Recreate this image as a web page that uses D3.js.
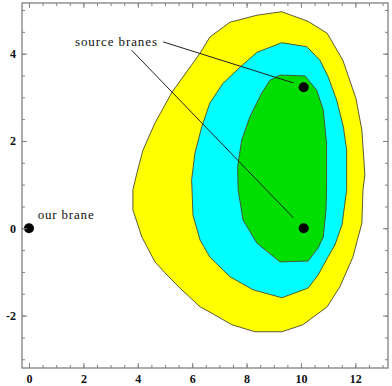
<!DOCTYPE html>
<html>
<head>
<meta charset="utf-8">
<script src="https://cdn.jsdelivr.net/npm/d3@7"></script>
<style>
  html, body { margin: 0; padding: 0; background: #fff; }
  svg { display: block; }
</style>
</head>
<body>
<div id="chart"></div>
<script>
// contour regions, outer to inner: [x, y] in plot units
const outerRegion = [
  [9.29, 4.96], [10.26, 4.74], [10.96, 4.47], [11.54, 3.85], [12.02, 2.98],
  [12.24, 2.25], [12.35, 1.22], [12.28, 0.88], [12.24, 0.12], [11.91, -0.66],
  [11.43, -1.34], [10.96, -1.80], [10.07, -2.21], [9.30, -2.37], [8.31, -2.37],
  [7.46, -2.21], [6.65, -1.92], [6.29, -1.80], [5.55, -1.37], [5.00, -1.02],
  [4.63, -0.77], [4.15, -0.20], [3.82, 0.42], [3.82, 0.88], [3.97, 1.27],
  [4.19, 1.79], [4.63, 2.41], [5.26, 3.12], [6.29, 4.01], [6.65, 4.38],
  [7.39, 4.72], [8.38, 4.88]
];
const middleRegion = [
  [9.29, 4.25], [10.21, 4.16], [10.70, 3.85], [11.00, 3.47], [11.31, 2.94],
  [11.56, 2.32], [11.68, 1.79], [11.68, 0.88], [11.51, 0.08], [11.25, -0.38],
  [10.99, -0.66], [10.63, -1.07], [10.26, -1.37], [9.30, -1.59], [8.24, -1.41],
  [7.39, -1.11], [6.65, -0.66], [6.29, -0.27], [6.03, 0.30], [5.98, 1.11],
  [6.10, 1.72], [6.35, 2.32], [6.65, 2.87], [7.13, 3.32], [7.76, 3.69],
  [8.38, 4.03]
];
const innerRegion = [
  [9.23, 3.51], [10.15, 3.49], [10.58, 3.16], [10.82, 2.71], [10.94, 1.95],
  [10.94, 0.88], [10.92, 0.42], [10.82, -0.20], [10.63, -0.45], [10.26, -0.75],
  [9.23, -0.77], [8.38, -0.34], [7.87, 0.19], [7.69, 0.88], [7.67, 1.40],
  [7.82, 2.02], [8.12, 2.55], [8.56, 3.10], [8.86, 3.39]
];
const regionColors = ['#ffff00', '#00ffff', '#00dd00'];

// branes
const sourceBranes = [[10.1, 3.23], [10.1, 0.0]];
const ourBrane = [[0.0, 0.0]];

// annotations
const sourceLabel = { text: 'source branes', x: 1.69, y: 4.17, len: 82 };
const ourLabel = { text: 'our brane', x: 0.32, y: 0.22, len: 56 };
const leaderLines = [
  [[4.93, 4.27], [9.72, 3.33]],
  [[3.77, 4.08], [9.72, 0.24]]
];

const xMajor = [0, 2, 4, 6, 8, 10, 12];
const yMajor = [-2, 0, 2, 4];
const xMinor = d3.range(-0.0, 13.01, 0.5);
const yMinor = d3.range(-3.0, 5.01, 0.5);

const width = 392, height = 386;
const margin = { top: 3, right: 4, bottom: 18, left: 22 };

const svg = d3.select('#chart').append('svg')
  .attr('width', width)
  .attr('height', height);

const x = d3.scaleLinear().domain([-0.257, 13.2]).range([margin.left, width - margin.right]);
const y = d3.scaleLinear().domain([-3.2, 5.16]).range([height - margin.bottom, margin.top]);

const line = d3.line().x(d => x(d[0])).y(d => y(d[1]));

// filled contours
svg.append('g')
  .selectAll('path')
  .data([outerRegion, middleRegion, innerRegion])
  .join('path')
  .attr('d', d => line(d) + 'Z')
  .attr('fill', (d, i) => regionColors[i])
  .attr('stroke', '#4a4a30')
  .attr('stroke-width', 0.9)
  .attr('stroke-linejoin', 'round');

// leader lines
svg.append('g')
  .selectAll('line')
  .data(leaderLines)
  .join('line')
  .attr('x1', d => x(d[0][0])).attr('y1', d => y(d[0][1]))
  .attr('x2', d => x(d[1][0])).attr('y2', d => y(d[1][1]))
  .attr('stroke', '#222')
  .attr('stroke-width', 1);

// dots
svg.append('g')
  .selectAll('circle')
  .data(sourceBranes.concat(ourBrane))
  .join('circle')
  .attr('cx', d => x(d[0]))
  .attr('cy', d => y(d[1]))
  .attr('r', 5)
  .attr('fill', '#000');

// labels
svg.append('g')
  .selectAll('text')
  .data([sourceLabel, ourLabel])
  .join('text')
  .attr('x', d => x(d.x))
  .attr('y', d => y(d.y))
  .attr('textLength', d => d.len)
  .attr('lengthAdjust', 'spacing')
  .style('font-family', '"Liberation Serif", "DejaVu Serif", serif')
  .style('font-size', '13px')
  .style('fill', '#111')
  .text(d => d.text);

// frame with inward ticks
const frameColor = '#808080';
const plotW = width - margin.left - margin.right;
const plotH = height - margin.top - margin.bottom;

function styleAxis(g) {
  g.select('.domain').remove();
  g.selectAll('line').attr('stroke', frameColor).attr('stroke-width', 1);
  g.selectAll('text')
    .style('font-family', '"Liberation Serif", "DejaVu Serif", serif')
    .style('font-weight', 'bold')
    .style('font-size', '12px')
    .attr('fill', '#111');
}

// bottom
svg.append('g').attr('transform', `translate(0,${height - margin.bottom})`)
  .call(d3.axisBottom(x).tickValues(xMinor).tickSizeInner(-3).tickFormat(''))
  .call(styleAxis);
svg.append('g').attr('transform', `translate(0,${height - margin.bottom})`)
  .call(d3.axisBottom(x).tickValues(xMajor).tickSizeInner(-5).tickPadding(6).tickFormat(d => String(d)))
  .call(styleAxis);
// top
svg.append('g').attr('transform', `translate(0,${margin.top})`)
  .call(d3.axisTop(x).tickValues(xMinor).tickSizeInner(-3).tickFormat(''))
  .call(styleAxis);
svg.append('g').attr('transform', `translate(0,${margin.top})`)
  .call(d3.axisTop(x).tickValues(xMajor).tickSizeInner(-5).tickFormat(''))
  .call(styleAxis);
// left
svg.append('g').attr('transform', `translate(${margin.left},0)`)
  .call(d3.axisLeft(y).tickValues(yMinor).tickSizeInner(-3).tickFormat(''))
  .call(styleAxis);
svg.append('g').attr('transform', `translate(${margin.left},0)`)
  .call(d3.axisLeft(y).tickValues(yMajor).tickSizeInner(-5).tickPadding(6).tickFormat(d => String(d)))
  .call(styleAxis);
// right
svg.append('g').attr('transform', `translate(${width - margin.right},0)`)
  .call(d3.axisRight(y).tickValues(yMinor).tickSizeInner(-3).tickFormat(''))
  .call(styleAxis);
svg.append('g').attr('transform', `translate(${width - margin.right},0)`)
  .call(d3.axisRight(y).tickValues(yMajor).tickSizeInner(-5).tickFormat(''))
  .call(styleAxis);

svg.append('rect')
  .attr('x', margin.left).attr('y', margin.top)
  .attr('width', plotW).attr('height', plotH)
  .attr('fill', 'none')
  .attr('stroke', frameColor)
  .attr('stroke-width', 1.3);
</script>
</body>
</html>
